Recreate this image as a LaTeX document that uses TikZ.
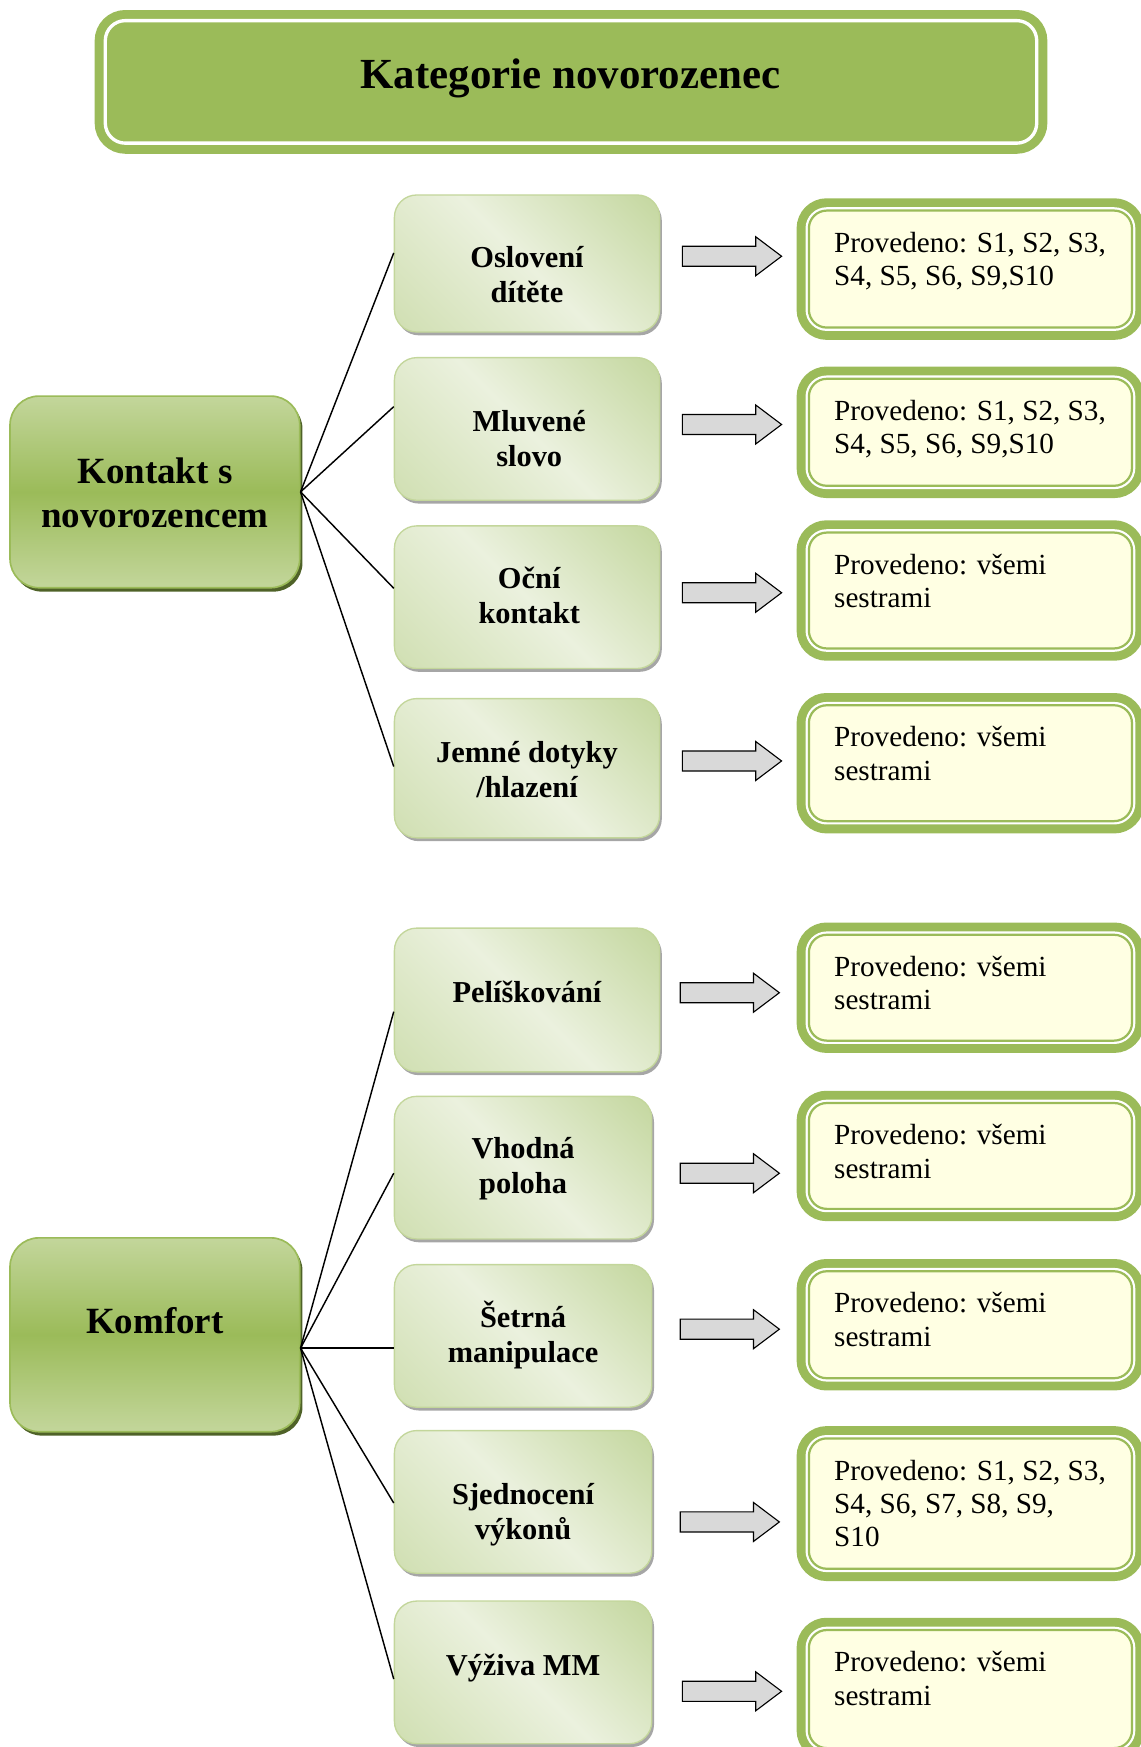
\documentclass[tikz,border=0pt]{standalone}
\usepackage{fontspec}
\setmainfont{Liberation Serif}
\usetikzlibrary{shapes.arrows,shadows}

\definecolor{leaf}{HTML}{9BBB59}
\definecolor{leafpale}{HTML}{C3D69B}
\definecolor{leafdark}{HTML}{4F6228}
\definecolor{cream}{HTML}{FFFFE3}
\definecolor{arrowgray}{HTML}{D9D9D9}
\definecolor{shadowgray}{HTML}{A6A6A6}
\definecolor{sweepA}{HTML}{D0DFB2}
\definecolor{sweepB}{HTML}{EBF1DE}
\definecolor{sweepC}{HTML}{C4D79F}

% diagonal sheen for the activity boxes
\pgfdeclarehorizontalshading{leafsweep}{100bp}{color(0bp)=(sweepA); color(15bp)=(sweepA); color(50bp)=(sweepB); color(85bp)=(sweepC); color(100bp)=(sweepC)}

% zero-width strut one em tall, so every text block hangs from a fixed line
\newcommand\capstrut{\rule{0pt}{1em}}

\begin{document}
\begin{tikzpicture}[x=1pt,y=-1pt,
  titlebox/.style={rectangle, rounded corners=18pt, inner sep=0pt,
    preaction={draw=leaf, line width=19pt},
    fill=leaf, draw=white, line width=3pt,
    minimum width=836pt, minimum height=110pt},
  titletext/.style={font=\fontsize{38.5pt}{44pt}\selectfont\bfseries,
    anchor=north, inner sep=0pt},
  catbox/.style={rectangle, rounded corners=26pt, inner sep=0pt,
    minimum width=260pt,
    drop shadow={shadow xshift=2.5pt, shadow yshift=-3.5pt, fill=leafdark, opacity=1},
    top color=leafpale, bottom color=leafpale, middle color=leaf,
    draw=leaf, line width=1.5pt},
  cattext/.style={font=\fontsize{33.2pt}{38.6pt}\selectfont\bfseries,
    align=center, anchor=north, inner sep=0pt},
  subbox/.style={rectangle, rounded corners=20pt, inner sep=0pt,
    drop shadow={shadow xshift=2pt, shadow yshift=-3pt, fill=shadowgray, opacity=1},
    shading=leafsweep, shading angle=45,
    draw=leafpale, line width=1.2pt},
  subtext/.style={font=\fontsize{27.3pt}{31.4pt}\selectfont\bfseries,
    align=center, anchor=north, inner sep=0pt},
  notebox/.style={rectangle, rounded corners=16pt, inner sep=0pt,
    preaction={draw=leaf, line width=22pt},
    preaction={draw=white, line width=6pt},
    fill=cream, draw=leaf, line width=2pt,
    minimum width=290pt},
  notetext/.style={font=\fontsize{26.2pt}{30pt}\selectfont,
    align=left, anchor=north west, inner sep=0pt},
  blockarrow/.style={single arrow, draw=black, fill=arrowgray, line width=1pt,
    inner sep=8.5pt, single arrow head extend=8.5pt,
    single arrow tip angle=74, minimum height=89pt, anchor=tail},
  link/.style={draw=black, line width=1.3pt}
]
\useasboundingbox (0,0) rectangle (1024,1568);
\clip (0,0) rectangle (1024,1568);

% heading
\node[titlebox] (title) at (512.5,73.5) {};
\node[titletext] (titlelbl) at (512,40.5) {\capstrut Kategorie novorozenec};

% categories
\node[catbox, minimum height=172pt] (k1) at (139,441.5) {};
\node[cattext] (k1lbl) at (139,401) {\capstrut Kontakt s\\novorozencem};
\node[catbox, minimum height=174pt] (k2) at (139,1198) {};
\node[cattext] (k2lbl) at (139,1163.5) {\capstrut Komfort};

% activities
\node[subbox, minimum width=238pt, minimum height=123pt] (m1) at (473,236.5) {};
\node[subbox, minimum width=238pt, minimum height=128pt] (m2) at (473,385) {};
\node[subbox, minimum width=238pt, minimum height=128pt] (m3) at (473,536) {};
\node[subbox, minimum width=238pt, minimum height=125pt] (m4) at (473,689.5) {};
\node[subbox, minimum width=238pt, minimum height=129pt] (m5) at (473,897.5) {};
\node[subbox, minimum width=231pt, minimum height=128pt] (m6) at (469.5,1048) {};
\node[subbox, minimum width=231pt, minimum height=128pt] (m7) at (469.5,1199) {};
\node[subbox, minimum width=231pt, minimum height=128pt] (m8) at (469.5,1348) {};
\node[subbox, minimum width=231pt, minimum height=128pt] (m9) at (469.5,1501) {};

\node[subtext] (m1lbl) at (473,213) {\capstrut Oslovení\\dítěte};
\node[subtext] (m2lbl) at (475,359.7) {\capstrut Mluvené\\slovo};
\node[subtext] (m3lbl) at (475,500.7) {\capstrut Oční\\kontakt};
\node[subtext] (m4lbl) at (473,656.7) {\capstrut Jemné dotyky\\/hlazení};
\node[subtext] (m5lbl) at (473,872.7) {\capstrut Pelíškování};
\node[subtext] (m6lbl) at (469.5,1012.7) {\capstrut Vhodná\\poloha};
\node[subtext] (m7lbl) at (469.5,1163.7) {\capstrut Šetrná\\manipulace};
\node[subtext] (m8lbl) at (469.5,1322.7) {\capstrut Sjednocení\\výkonů};
\node[subtext] (m9lbl) at (469.5,1476.7) {\capstrut Výživa MM};

% branches
\draw[link] (k1.east) -- ([yshift=9.5pt]m1.west);
\draw[link] (k1.east) -- ([yshift=20pt]m2.west);
\draw[link] (k1.east) -- ([yshift=8pt]m3.west);
\draw[link] (k1.east) -- ([yshift=1.5pt]m4.west);
\coordinate (k2hub) at ([yshift=-12pt]k2.east);
\draw[link] (k2hub) -- ([yshift=-10.5pt]m5.west);
\draw[link] (k2hub) -- ([yshift=-5pt]m6.west);
\draw[link] (k2hub) -- ([yshift=-11pt]m7.west);
\draw[link] (k2hub) -- ([yshift=-1pt]m8.west);
\draw[link] (k2hub) -- ([yshift=-6pt]m9.west);

% block arrows
\node[blockarrow] (a1) at (612,230) {};
\node[blockarrow] (a2) at (612,381) {};
\node[blockarrow] (a3) at (612,532) {};
\node[blockarrow] (a4) at (612,683) {};
\node[blockarrow] (a5) at (610,891) {};
\node[blockarrow] (a6) at (610,1053) {};
\node[blockarrow] (a7) at (610,1193) {};
\node[blockarrow] (a8) at (610,1366) {};
\node[blockarrow] (a9) at (612,1518) {};

% outcomes
\node[notebox, minimum height=105pt] (r1) at (871,241.5) {};
\node[notebox, minimum height=96pt]  (r2) at (871,388) {};
\node[notebox, minimum height=104pt] (r3) at (871,530) {};
\node[notebox, minimum height=104pt] (r4) at (871,685) {};
\node[notebox, minimum height=95pt]  (r5) at (871,886.5) {};
\node[notebox, minimum height=95pt]  (r6) at (871,1037.5) {};
\node[notebox, minimum height=96pt]  (r7) at (871,1189) {};
\node[notebox, minimum height=117pt] (r8) at (871,1349.5) {};
\node[notebox, minimum height=106pt] (r9) at (871,1516) {};

\node[notetext] (r1lbl) at (748.5,200) {\capstrut Provedeno: S1, S2, S3,\\S4, S5, S6, S9,S10};
\node[notetext] (r2lbl) at (748.5,351) {\capstrut Provedeno: S1, S2, S3,\\S4, S5, S6, S9,S10};
\node[notetext] (r3lbl) at (748.5,489) {\capstrut Provedeno: všemi\\sestrami};
\node[notetext] (r4lbl) at (748.5,644) {\capstrut Provedeno: všemi\\sestrami};
\node[notetext] (r5lbl) at (748.5,850) {\capstrut Provedeno: všemi\\sestrami};
\node[notetext] (r6lbl) at (748.5,1001) {\capstrut Provedeno: všemi\\sestrami};
\node[notetext] (r7lbl) at (748.5,1152) {\capstrut Provedeno: všemi\\sestrami};
\node[notetext] (r8lbl) at (748.5,1302) {\capstrut Provedeno: S1, S2, S3,\\S4, S6, S7, S8, S9,\\S10};
\node[notetext] (r9lbl) at (748.5,1474) {\capstrut Provedeno: všemi\\sestrami};
\end{tikzpicture}
\end{document}
